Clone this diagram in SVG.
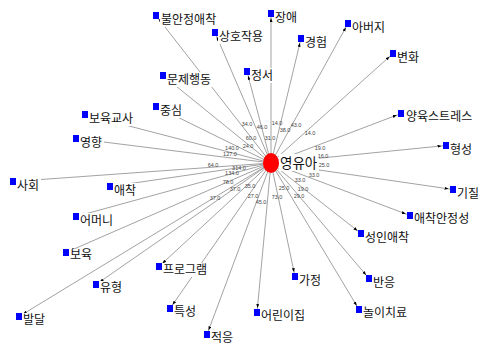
<svg xmlns="http://www.w3.org/2000/svg" width="485" height="344" viewBox="0 0 485 344">
<style>
.e{stroke:#8a8a8a;stroke-width:0.8;fill:none;marker-end:url(#ah)}
.sq{fill:#0000ff}
.bg{fill:#ffffff}
.lb{font-family:"Noto Sans CJK KR","Noto Sans",sans-serif;font-size:12px;fill:#111}
.w{font-family:"Liberation Sans",Arial,sans-serif;font-size:5.5px;fill:#444;text-anchor:middle}
</style>
<defs>
<marker id="ah" markerUnits="userSpaceOnUse" markerWidth="12" markerHeight="4" refX="8.5" refY="1.5" orient="auto">
<path d="M0,0 L4,1.5 L0,3 z" fill="#000"/>
</marker>
</defs>
<rect width="485" height="344" fill="#fff"/>
<g id="connectors">
<line class="e" x1="271" y1="163" x2="156" y2="15.5"/>
<line class="e" x1="271" y1="163" x2="215" y2="32.5"/>
<line class="e" x1="271" y1="163" x2="271" y2="13.5"/>
<line class="e" x1="271" y1="163" x2="348" y2="23.5"/>
<line class="e" x1="271" y1="163" x2="301" y2="38.5"/>
<line class="e" x1="271" y1="163" x2="393" y2="53.5"/>
<line class="e" x1="271" y1="163" x2="247" y2="71.5"/>
<line class="e" x1="271" y1="163" x2="163" y2="75.5"/>
<line class="e" x1="271" y1="163" x2="156" y2="106.5"/>
<line class="e" x1="271" y1="163" x2="85" y2="114.5"/>
<line class="e" x1="271" y1="163" x2="76" y2="138.5"/>
<line class="e" x1="271" y1="163" x2="401" y2="113.5"/>
<line class="e" x1="271" y1="163" x2="446" y2="145.5"/>
<line class="e" x1="271" y1="163" x2="453" y2="189.5"/>
<line class="e" x1="271" y1="163" x2="410" y2="215.5"/>
<line class="e" x1="271" y1="163" x2="13" y2="181.5"/>
<line class="e" x1="271" y1="163" x2="110" y2="186.5"/>
<line class="e" x1="271" y1="163" x2="76" y2="216.5"/>
<line class="e" x1="271" y1="163" x2="361" y2="233.5"/>
<line class="e" x1="271" y1="163" x2="66" y2="252.5"/>
<line class="e" x1="271" y1="163" x2="159" y2="266.5"/>
<line class="e" x1="271" y1="163" x2="96" y2="284.5"/>
<line class="e" x1="271" y1="163" x2="170" y2="308.5"/>
<line class="e" x1="271" y1="163" x2="19" y2="316.5"/>
<line class="e" x1="271" y1="163" x2="207" y2="334.5"/>
<line class="e" x1="271" y1="163" x2="295" y2="276.5"/>
<line class="e" x1="271" y1="163" x2="369" y2="278.5"/>
<line class="e" x1="271" y1="163" x2="257" y2="312.5"/>
<line class="e" x1="271" y1="163" x2="359" y2="309.5"/>
</g>
<g id="n-center">
<rect class="bg" x="279" y="154" width="40" height="17"/>
<ellipse cx="271" cy="163" rx="8" ry="10" fill="#ff0000"/>
<text x="280" y="168" font-family="Noto Sans CJK KR, Noto Sans, sans-serif" font-size="13.5" fill="#111">영유아</text>
</g>
<g id="n1"><rect class="bg" x="160" y="12" width="61" height="15"/><rect class="sq" x="153" y="12" width="6" height="7"/><text class="lb" x="161" y="23.5">불안정애착</text></g>
<g id="n2"><rect class="bg" x="218" y="29" width="49" height="15"/><rect class="sq" x="212" y="29" width="6" height="7"/><text class="lb" x="219" y="40.5">상호작용</text></g>
<g id="n3"><rect class="bg" x="274" y="10" width="25" height="15"/><rect class="sq" x="268" y="10" width="6" height="7"/><text class="lb" x="275" y="21.5">장애</text></g>
<g id="n4"><rect class="bg" x="351" y="20" width="37" height="15"/><rect class="sq" x="345" y="20" width="6" height="7"/><text class="lb" x="352" y="31.5">아버지</text></g>
<g id="n5"><rect class="bg" x="304" y="35" width="25" height="15"/><rect class="sq" x="298" y="35" width="6" height="7"/><text class="lb" x="305" y="46.5">경험</text></g>
<g id="n6"><rect class="bg" x="396" y="50" width="25" height="15"/><rect class="sq" x="390" y="50" width="6" height="7"/><text class="lb" x="397" y="61.5">변화</text></g>
<g id="n7"><rect class="bg" x="250" y="68" width="25" height="15"/><rect class="sq" x="244" y="68" width="6" height="7"/><text class="lb" x="251" y="79.5">정서</text></g>
<g id="n8"><rect class="bg" x="166" y="72" width="49" height="15"/><rect class="sq" x="160" y="72" width="6" height="7"/><text class="lb" x="167" y="83.5">문제행동</text></g>
<g id="n9"><rect class="bg" x="159" y="103" width="25" height="15"/><rect class="sq" x="153" y="103" width="6" height="7"/><text class="lb" x="160" y="114.5">중심</text></g>
<g id="n10"><rect class="bg" x="88" y="111" width="49" height="15"/><rect class="sq" x="82" y="111" width="6" height="7"/><text class="lb" x="89" y="122.5">보육교사</text></g>
<g id="n11"><rect class="bg" x="79" y="135" width="25" height="15"/><rect class="sq" x="73" y="135" width="6" height="7"/><text class="lb" x="80" y="146.5">영향</text></g>
<g id="n12"><rect class="bg" x="405" y="110" width="73" height="15"/><rect class="sq" x="398" y="110" width="6" height="7"/><text class="lb" x="406" y="120.5">양육스트레스</text></g>
<g id="n13"><rect class="bg" x="449" y="142" width="25" height="15"/><rect class="sq" x="443" y="142" width="6" height="7"/><text class="lb" x="450" y="153.5">형성</text></g>
<g id="n14"><rect class="bg" x="456" y="186" width="25" height="15"/><rect class="sq" x="450" y="186" width="6" height="7"/><text class="lb" x="457" y="197.5">기질</text></g>
<g id="n15"><rect class="bg" x="413" y="212" width="61" height="15"/><rect class="sq" x="407" y="212" width="6" height="7"/><text class="lb" x="414" y="222.5">애착안정성</text></g>
<g id="n16"><rect class="bg" x="16" y="178" width="25" height="15"/><rect class="sq" x="10" y="178" width="6" height="7"/><text class="lb" x="17" y="189.5">사회</text></g>
<g id="n17"><rect class="bg" x="113" y="183" width="25" height="15"/><rect class="sq" x="107" y="183" width="6" height="7"/><text class="lb" x="114" y="194.5">애착</text></g>
<g id="n18"><rect class="bg" x="79" y="213" width="37" height="15"/><rect class="sq" x="73" y="213" width="6" height="7"/><text class="lb" x="80" y="224.5">어머니</text></g>
<g id="n19"><rect class="bg" x="364" y="230" width="49" height="15"/><rect class="sq" x="358" y="230" width="6" height="7"/><text class="lb" x="365" y="241.5">성인애착</text></g>
<g id="n20"><rect class="bg" x="69" y="249" width="25" height="14"/><rect class="sq" x="63" y="249" width="6" height="7"/><text class="lb" x="70" y="259">보육</text></g>
<g id="n21"><rect class="bg" x="162" y="263" width="49" height="14"/><rect class="sq" x="156" y="263" width="6" height="7"/><text class="lb" x="163" y="273.5">프로그램</text></g>
<g id="n22"><rect class="bg" x="99" y="281" width="25" height="14"/><rect class="sq" x="93" y="281" width="6" height="7"/><text class="lb" x="100" y="291.5">유형</text></g>
<g id="n23"><rect class="bg" x="173" y="305" width="25" height="14"/><rect class="sq" x="167" y="305" width="6" height="7"/><text class="lb" x="174" y="315.5">특성</text></g>
<g id="n24"><rect class="bg" x="22" y="313" width="25" height="14"/><rect class="sq" x="16" y="313" width="6" height="7"/><text class="lb" x="23" y="323.5">발달</text></g>
<g id="n25"><rect class="bg" x="210" y="331" width="25" height="13"/><rect class="sq" x="204" y="331" width="6" height="7"/><text class="lb" x="211" y="341.5">적응</text></g>
<g id="n26"><rect class="bg" x="298" y="273" width="25" height="15"/><rect class="sq" x="292" y="273" width="6" height="7"/><text class="lb" x="299" y="284.5">가정</text></g>
<g id="n27"><rect class="bg" x="372" y="275" width="25" height="15"/><rect class="sq" x="366" y="275" width="6" height="7"/><text class="lb" x="373" y="286.5">반응</text></g>
<g id="n28"><rect class="bg" x="260" y="309" width="49" height="15"/><rect class="sq" x="254" y="309" width="6" height="7"/><text class="lb" x="261" y="319.5">어린이집</text></g>
<g id="n29"><rect class="bg" x="362" y="306" width="49" height="15"/><rect class="sq" x="356" y="306" width="6" height="7"/><text class="lb" x="363" y="316.5">놀이치료</text></g>
<g id="weights">
<text class="w" x="247" y="126">34.0</text>
<text class="w" x="262" y="129">46.0</text>
<text class="w" x="277" y="125">14.0</text>
<text class="w" x="285" y="132">38.0</text>
<text class="w" x="296" y="127">43.0</text>
<text class="w" x="310" y="135">14.0</text>
<text class="w" x="251" y="140">60.0</text>
<text class="w" x="270" y="140">31.0</text>
<text class="w" x="248" y="148">24.0</text>
<text class="w" x="232" y="150">140.0</text>
<text class="w" x="230" y="156">127.0</text>
<text class="w" x="320" y="150">19.0</text>
<text class="w" x="323" y="158">16.0</text>
<text class="w" x="324" y="167">25.0</text>
<text class="w" x="314" y="177" fill="#999">33.0</text>
<text class="w" x="300" y="182">33.0</text>
<text class="w" x="303" y="191">19.0</text>
<text class="w" x="299" y="198">29.0</text>
<text class="w" x="284" y="190">25.0</text>
<text class="w" x="277" y="199">73.0</text>
<text class="w" x="261" y="204">45.0</text>
<text class="w" x="253" y="198">27.0</text>
<text class="w" x="250" y="188">35.0</text>
<text class="w" x="235" y="191">37.0</text>
<text class="w" x="215" y="200">37.0</text>
<text class="w" x="228" y="184">78.0</text>
<text class="w" x="232" y="175">134.0</text>
<text class="w" x="239" y="170">314.0</text>
<text class="w" x="213" y="167">64.0</text>
</g>
</svg>
